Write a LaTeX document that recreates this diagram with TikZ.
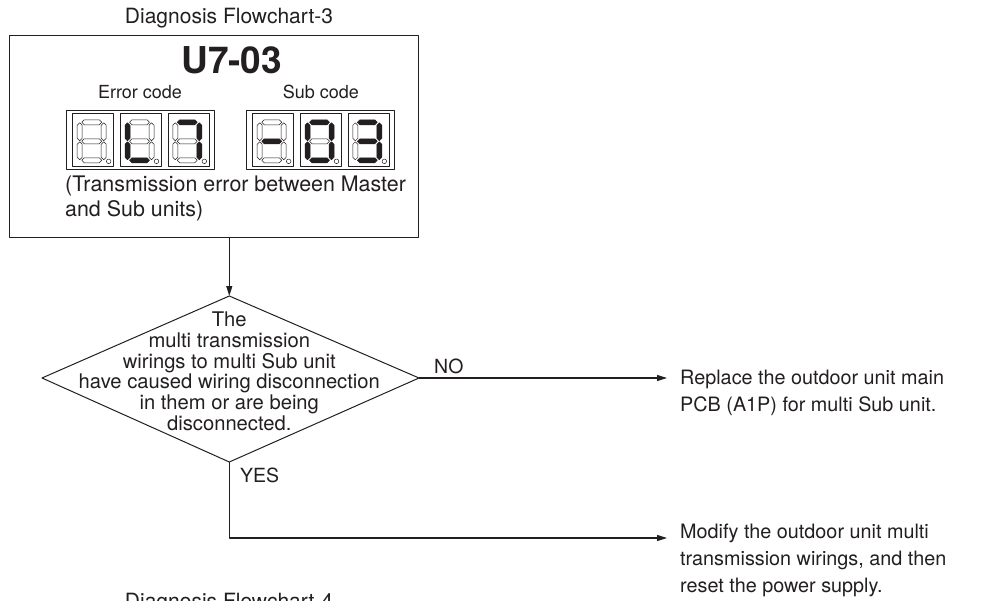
\documentclass[tikz,border=0pt]{standalone}
\usepackage{fontspec}
\setmainfont{TeX Gyre Heros}
\usetikzlibrary{arrows.meta}
\definecolor{ink}{HTML}{231F20}
\newcommand{\hseg}[3]{\path[#1] ({#2-10},{#3}) -- ({#2-7.5},{#3-2.5}) -- ({#2+7.5},{#3-2.5}) -- ({#2+10},{#3}) -- ({#2+7.5},{#3+2.5}) -- ({#2-7.5},{#3+2.5}) -- cycle;}
\newcommand{\vseg}[3]{\path[#1] ({#2},{#3-9}) -- ({#2+2.5},{#3-6.5}) -- ({#2+2.5},{#3+6.5}) -- ({#2},{#3+9}) -- ({#2-2.5},{#3+6.5}) -- ({#2-2.5},{#3-6.5}) -- cycle;}
\newcommand{\digitcell}[3]{%
  \begin{scope}[sa/.style=segoff,sb/.style=segoff,sc/.style=segoff,sd/.style=segoff,se/.style=segoff,sf/.style=segoff,sg/.style=segoff,#3]
    \draw[cellbox] (#1,#2) rectangle ++(41,52.7);
    \hseg{sa}{#1+19}{#2+9}
    \hseg{sg}{#1+19}{#2+28}
    \hseg{sd}{#1+19}{#2+47}
    \vseg{sf}{#1+7}{#2+18.5}
    \vseg{sb}{#1+31}{#2+18.5}
    \vseg{se}{#1+7}{#2+37.5}
    \vseg{sc}{#1+31}{#2+37.5}
    \draw[segoff] ({#1+36},{#2+48}) circle (2.3);
  \end{scope}}
\begin{document}
\begin{tikzpicture}[x=1pt,y=-1pt,line join=round,
  every node/.style={inner sep=0pt,text=ink},
  segoff/.style={draw=ink,line width=0.5pt,fill=white},
  segon/.style={draw=ink,line width=0.5pt,fill=ink},
  cellbox/.style={draw=ink,line width=0.8pt},
  arr/.style={draw=ink,line width=1.1pt,-{Triangle[length=10pt,width=6pt]}},
  body/.style={font=\fontsize{20.2}{20.7}\selectfont},
  side/.style={font=\fontsize{19.8}{27}\selectfont,align=left,anchor=base west},
  lab/.style={font=\fontsize{19.5}{22}\selectfont,anchor=base west}]
\useasboundingbox (0,0) rectangle (981,601);
\clip (0,0) rectangle (981,601);
\fill[white] (0,0) rectangle (981,601);

% title
\node[anchor=base,font=\fontsize{21}{24}\selectfont] (title) at (229,24) {Diagnosis Flowchart-3};

% main box
\node[draw=ink,line width=1.3pt,minimum width=409pt,minimum height=202pt,anchor=north west] (box) at (9,35) {};
\node[anchor=base,font=\bfseries\fontsize{37}{40}\selectfont] (code) at (231.7,74) {U7-03};
\node[anchor=base,font=\fontsize{18}{20}\selectfont] (errlbl) at (140,99) {Error code};
\node[anchor=base,font=\fontsize{18}{20}\selectfont] (sublbl) at (320.8,99) {Sub code};

% displays
\draw[cellbox] (66,110) rectangle (214,169.3);
\draw[cellbox] (246,110) rectangle (394,169.3);
\digitcell{72.7}{113.3}{}
\digitcell{120.5}{113.3}{sf/.style=segon,se/.style=segon,sd/.style=segon}
\digitcell{168.3}{113.3}{sa/.style=segon,sb/.style=segon,sc/.style=segon}
\digitcell{252.7}{113.3}{sg/.style=segon}
\digitcell{300.5}{113.3}{sa/.style=segon,sb/.style=segon,sc/.style=segon,sd/.style=segon,se/.style=segon,sf/.style=segon}
\digitcell{348.3}{113.3}{sa/.style=segon,sb/.style=segon,sc/.style=segon,sd/.style=segon,sg/.style=segon}

\node[anchor=base west,align=left,font=\fontsize{21.4}{25}\selectfont] (desc) at (65,216.7) {(Transmission error between Master\\and Sub units)};

% decision
\coordinate (dT) at (229.3,296);
\coordinate (dR) at (419,378);
\coordinate (dB) at (229.3,462);
\coordinate (dL) at (42,378);
\draw[ink,line width=1pt] (dT) -- (dR) -- (dB) -- (dL) -- cycle;
\node[body,anchor=base,align=center] (dtext) at (229.3,430.3) {The\\multi transmission\\wirings to multi Sub unit\\have caused wiring disconnection\\in them or are being\\disconnected.};

\draw[arr] (box.south -| dT) -- (dT);

% NO branch
\node[side] (rep) at (680,411) {Replace the outdoor unit main\\PCB (A1P) for multi Sub unit.};
\coordinate (noend) at (667,378);
\draw[arr] (dR) -- (noend);
\node[lab] (no) at (434,373) {NO};

% YES branch
\node[side] (mod) at (680,592) {Modify the outdoor unit multi\\transmission wirings, and then\\reset the power supply.};
\coordinate (ycorner) at (229.3,538);
\coordinate (yesend) at (667,538);
\draw[arr] (dB) -- (ycorner) -- (yesend);
\node[lab] (yes) at (240,482) {YES};

% next chart title (cut off by page edge)
\node[anchor=base,font=\fontsize{21}{24}\selectfont] (next) at (229,608) {Diagnosis Flowchart-4};
\end{tikzpicture}
\end{document}
